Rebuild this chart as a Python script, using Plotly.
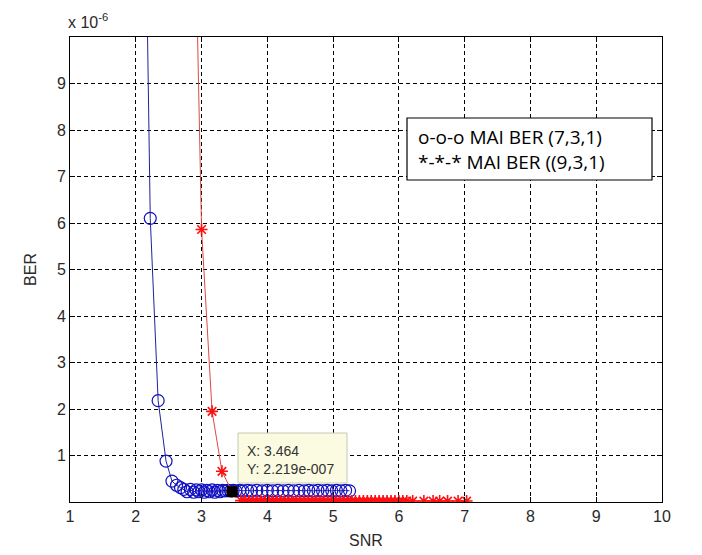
import plotly.graph_objects as go

# BER values are in units of 1e-6 (axis shows "x 10^-6")
snr_731 = [2.10, 2.22, 2.34, 2.46, 2.55, 2.62, 2.68, 2.73, 2.78, 2.83, 2.88, 2.92,
           2.96, 3.00, 3.04, 3.08, 3.12, 3.16, 3.20, 3.24, 3.28, 3.32, 3.36, 3.40,
           3.44, 3.48, 3.52, 3.58, 3.63, 3.70, 3.76, 3.84, 3.92, 4.00, 4.08, 4.16,
           4.24, 4.32, 4.40, 4.48, 4.56, 4.63, 4.70, 4.77, 4.84, 4.91, 4.98, 5.05,
           5.12, 5.19, 5.25]
ber_731 = [17.5, 6.10, 2.18, 0.88, 0.45, 0.36, 0.31, 0.27, 0.22, 0.27, 0.21, 0.26,
           0.22, 0.26, 0.21, 0.25, 0.22, 0.26, 0.21, 0.25, 0.22, 0.25, 0.24, 0.25,
           0.24, 0.25, 0.24, 0.25, 0.24, 0.25, 0.24, 0.25, 0.24, 0.25, 0.24, 0.25,
           0.24, 0.25, 0.24, 0.25, 0.24, 0.25, 0.24, 0.25, 0.24, 0.25, 0.24, 0.25,
           0.24, 0.25, 0.24]

snr_931 = [2.83, 3.00, 3.16, 3.31, 3.464, 3.60, 3.66, 3.72, 3.78, 3.84, 3.90, 3.96,
           4.02, 4.08, 4.14, 4.20, 4.26, 4.32, 4.38, 4.44, 4.50, 4.56, 4.62, 4.68,
           4.74, 4.80, 4.86, 4.92, 4.98, 5.04, 5.10, 5.16, 5.22, 5.28, 5.34, 5.40,
           5.46, 5.52, 5.58, 5.64, 5.70, 5.76, 5.82, 5.88, 5.94, 6.00, 6.06, 6.12,
           6.21, 6.38, 6.52, 6.62, 6.74, 6.90, 7.03]
ber_931 = [17.5, 5.86, 1.95, 0.66, 0.2219, 0.03, 0.02, 0.02, 0.02, 0.02, 0.02, 0.02,
           0.02, 0.02, 0.02, 0.02, 0.02, 0.02, 0.02, 0.02, 0.02, 0.02, 0.02, 0.02,
           0.02, 0.02, 0.02, 0.02, 0.02, 0.02, 0.02, 0.02, 0.02, 0.02, 0.02, 0.02,
           0.02, 0.02, 0.02, 0.02, 0.02, 0.02, 0.02, 0.02, 0.02, 0.02, 0.02, 0.02,
           0.02, 0.02, 0.02, 0.02, 0.02, 0.02, 0.02]

tip_x = [3.464]
tip_y = [0.2219]

x_ticks = [1, 2, 3, 4, 5, 6, 7, 8, 9, 10]
y_ticks = [1, 2, 3, 4, 5, 6, 7, 8, 9]

legend_lines = ["o-o-o MAI BER (7,3,1)", "*-*-* MAI BER ((9,3,1)"]
tip_lines = ["X: 3.464", "Y: 2.219e-007"]

fig = go.Figure()
fig.add_trace(go.Scatter(
    x=snr_731, y=ber_731, mode="lines+markers",
    line=dict(color="#22229a", width=1),
    marker=dict(symbol="circle-open", size=12, color="#1010c0",
                line=dict(width=1.2, color="#1010c0")),
    showlegend=False, cliponaxis=True))
fig.add_trace(go.Scatter(
    x=snr_931, y=ber_931, mode="lines+markers",
    line=dict(color="#e04848", width=1),
    marker=dict(symbol="asterisk-open", size=10, color="#ff1010",
                line=dict(width=1.6, color="#ff1010")),
    showlegend=False, cliponaxis=True))
fig.add_trace(go.Scatter(
    x=tip_x, y=tip_y, mode="markers",
    marker=dict(symbol="square", size=11, color="black"),
    showlegend=False))

font_axis = dict(family="Liberation Sans, Arial, sans-serif", size=16, color="#2a2a2a")

fig.update_layout(
    width=702, height=555,
    margin=dict(l=70, r=40, t=37, b=53),
    paper_bgcolor="white", plot_bgcolor="white",
    font=font_axis,
    xaxis=dict(range=[1, 10], tickvals=x_ticks, ticktext=[str(v) for v in x_ticks],
               showline=True, mirror="ticks", linecolor="black", linewidth=1,
               ticks="inside", ticklen=5, tickcolor="black",
               showgrid=True, gridcolor="black", gridwidth=1, griddash="4px,3px",
               zeroline=False, title=dict(text="SNR", standoff=10, font=font_axis),
               tickfont=font_axis, automargin=False),
    yaxis=dict(range=[0, 10], tickvals=y_ticks, ticktext=[str(v) for v in y_ticks],
               showline=True, mirror="ticks", linecolor="black", linewidth=1,
               ticks="inside", ticklen=5, tickcolor="black",
               showgrid=True, gridcolor="black", gridwidth=1, griddash="4px,3px",
               zeroline=False, title=dict(text="BER", standoff=16, font=font_axis),
               tickfont=font_axis, automargin=False),
)

# exponent label
fig.add_annotation(xref="paper", yref="paper", x=0, y=1, xanchor="left", yanchor="bottom",
                   xshift=-4, yshift=4, showarrow=False,
                   text="x 10<sup>-6</sup>", font=font_axis)

# legend box
lx0, lx1 = (407 - 70) / 592, (652 - 70) / 592
ly0, ly1 = (502 - 180) / 465, (502 - 118) / 465
fig.add_shape(type="rect", xref="paper", yref="paper", x0=lx0, x1=lx1, y0=ly0, y1=ly1,
              line=dict(color="black", width=1.2), fillcolor="white", layer="above")
fig.add_annotation(xref="paper", yref="paper", x=lx0, y=(ly0 + ly1) / 2,
                   xanchor="left", yanchor="middle", xshift=9, showarrow=False,
                   align="left", text="<br>".join(legend_lines),
                   font=dict(family="Open Sans, Lato, sans-serif", size=19, color="black"))

# data tip box
tx0, tx1 = (238 - 70) / 592, (347 - 70) / 592
ty0, ty1 = (502 - 483) / 465, (502 - 433) / 465
fig.add_shape(type="rect", xref="paper", yref="paper", x0=tx0, x1=tx1, y0=ty0, y1=ty1,
              line=dict(color="#c8c8b4", width=1), fillcolor="#fbfbe2", layer="above")
fig.add_annotation(xref="paper", yref="paper", x=tx0, y=(ty0 + ty1) / 2,
                   xanchor="left", yanchor="middle", xshift=7, yshift=-2, showarrow=False,
                   align="left", text="<br>".join(tip_lines),
                   font=dict(family="Liberation Sans, Arial, sans-serif", size=14, color="#333333"))

fig.write_html("out.html", config={"displayModeBar": False},
               post_script="document.body.style.margin='0px';")
